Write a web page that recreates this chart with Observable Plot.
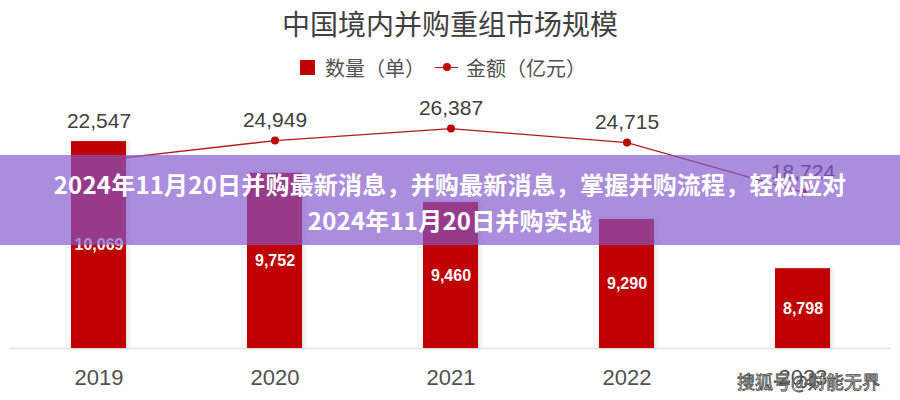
<!DOCTYPE html>
<html><head><meta charset="utf-8">
<script src="https://cdn.jsdelivr.net/npm/d3@7"></script>
<script src="https://cdn.jsdelivr.net/npm/@observablehq/plot@0.6"></script>
<style>
body{margin:0;background:#fff;}
#wrap{position:relative;width:900px;height:400px;overflow:hidden;font-family:"Liberation Sans",Arial,"Noto Sans CJK SC",sans-serif;background:#fff;}
#title{position:absolute;left:0;top:6px;width:900px;text-align:center;font-size:28px;line-height:34px;color:#404040;font-family:"Noto Sans CJK SC",sans-serif;}
#legend{position:absolute;top:55px;left:-7px;width:900px;height:24px;display:flex;justify-content:center;align-items:center;font-size:20px;color:#505050;font-family:"Noto Sans CJK SC",sans-serif;}
#legend .sq{width:15px;height:15px;background:#C00000;margin-right:10px;}
#legend .ln{position:relative;width:23px;height:10px;margin:0 8px 0 10px;}
#legend .ln::before{content:"";position:absolute;left:0;right:0;top:4.5px;height:1.3px;background:#B21A1A;}
#legend .ln::after{content:"";position:absolute;left:7.5px;top:1px;width:8px;height:8px;border-radius:50%;background:#C00000;}
#chart{position:absolute;left:0;top:90px;}
#banner{position:absolute;left:0;top:155px;width:900px;height:90px;background:rgba(131,86,204,0.675);}
#bannerText{position:absolute;left:0;top:166px;width:900px;text-align:center;color:#fff;font-weight:bold;font-size:24px;line-height:36px;letter-spacing:0.2px;font-family:"Noto Sans CJK SC",sans-serif;}
#watermark{position:absolute;left:737px;top:370px;font-size:18px;line-height:22px;color:#fff;-webkit-text-stroke:0.8px #444;font-family:"Noto Sans CJK SC",sans-serif;}
</style></head>
<body>
<div id="wrap">
  <div id="title">中国境内并购重组市场规模</div>
  <div id="legend"><span class="sq"></span><span>数量（单）</span><span class="ln"></span><span>金额（亿元）</span></div>
  <div id="chart"></div>
  <div id="banner"></div>
  <div id="bannerText">2024年11月20日并购最新消息，并购最新消息，掌握并购流程，轻松应对<br>2024年11月20日并购实战</div>
  <div id="watermark">搜狐号@财能无界</div>
</div>
<script>
const years = ["2019", "2020", "2021", "2022", "2023"];
const counts = [10069, 9752, 9460, 9290, 8798];      // 数量（单）
const amounts = [22547, 24949, 26387, 24715, 18724]; // 金额（亿元）

const countBase = 8000, countTop = 10500, amountTop = 30000;
const rows = years.map((year, i) => ({year, count: counts[i], amount: amounts[i]}));
const amountY = a => countBase + a / amountTop * (countTop - countBase);
const fmt = d3.format(",");

const chart = Plot.plot({
  width: 900, height: 310,
  marginTop: 8, marginBottom: 52, marginLeft: 9, marginRight: 9,
  style: {fontFamily: "'Liberation Sans', Arial, sans-serif", background: "transparent"},
  x: {domain: years, paddingInner: 0.69, paddingOuter: 0.345, label: null},
  y: {domain: [countBase, countTop], axis: null},
  marks: [
    Plot.ruleY([countBase], {stroke: "#e2e2e2", strokeWidth: 1.5}),
    Plot.line(rows, {x: "year", y: d => amountY(d.amount), stroke: "#B21A1A", strokeWidth: 1.3}),
    Plot.dot(rows, {x: "year", y: d => amountY(d.amount), r: 4, fill: "#C00000", stroke: "none"}),
    Plot.barY(rows, {x: "year", y1: countBase, y2: "count", fill: "#C00000"}),
    Plot.text(rows, {x: "year", y: d => Math.max(d.count, amountY(d.amount)), text: d => fmt(d.amount), dy: -20, fontSize: 21, fill: "#404040"}),
    Plot.text(rows, {x: "year", y: d => (countBase + d.count) / 2, text: d => fmt(d.count), fill: "white", fontWeight: "bold", fontSize: 16}),
    Plot.axisX({tickSize: 0, tickPadding: 21, fontSize: 22, color: "#505050", label: null})
  ]
});
const barG = chart.querySelector('g[aria-label="bar"]');
if (barG) barG.style.filter = "drop-shadow(2px 0px 2px rgba(0,0,0,0.12))";
document.getElementById("chart").appendChild(chart);
</script>
</body></html>
